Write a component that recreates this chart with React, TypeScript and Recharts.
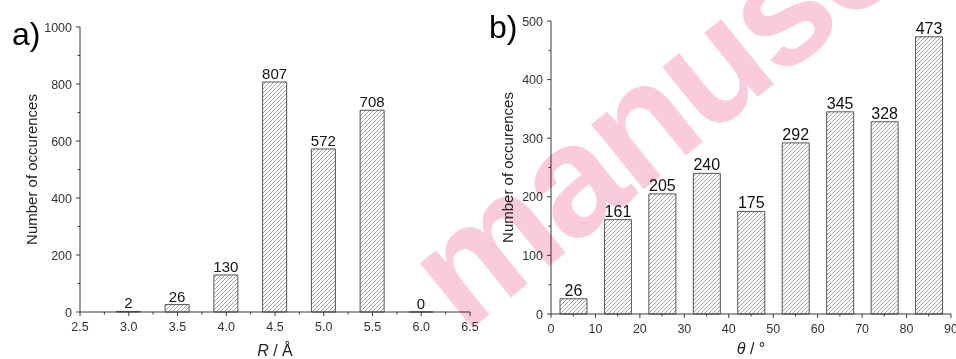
import React from 'react';
import { BarChart, Bar, XAxis, YAxis, LabelList } from 'recharts';

// panel a: distance R
const rValues = [3.0, 3.5, 4.0, 4.5, 5.0, 5.5, 6.0];
const rCounts = [2, 26, 130, 807, 572, 708, 0];
const rTicks = [2.5, 2.75, 3.0, 3.25, 3.5, 3.75, 4.0, 4.25, 4.5, 4.75, 5.0, 5.25, 5.5, 5.75, 6.0, 6.25, 6.5];
const rCountTicks = [0, 100, 200, 300, 400, 500, 600, 700, 800, 900, 1000];

// panel b: angle theta
const thetaValues = [5, 15, 25, 35, 45, 55, 65, 75, 85];
const thetaCounts = [26, 161, 205, 240, 175, 292, 345, 328, 473];
const thetaTicks = [0, 5, 10, 15, 20, 25, 30, 35, 40, 45, 50, 55, 60, 65, 70, 75, 80, 85, 90];
const thetaCountTicks = [0, 50, 100, 150, 200, 250, 300, 350, 400, 450, 500];

const rData = rValues.map((x, i) => ({ x, y: rCounts[i] }));
const thetaData = thetaValues.map((x, i) => ({ x, y: thetaCounts[i] }));

const FONT = '"Liberation Sans", Arial, sans-serif';
const AXIS = '#3a3a3a';

const makeXTick = (isMajor: (v: number) => boolean, fmt: (v: number) => string) => (props: any) => {
  const { x, y, payload } = props;
  const major = isMajor(payload.value);
  return (
    <g>
      <line x1={x} x2={x} y1={y} y2={y + (major ? 4 : 2.5)} stroke={AXIS} strokeWidth={1} />
      {major && (
        <text x={x} y={y + 19} textAnchor="middle" fontSize={12.5} fill="#333" fontFamily={FONT}>
          {fmt(payload.value)}
        </text>
      )}
    </g>
  );
};

const makeYTick = (isMajor: (v: number) => boolean) => (props: any) => {
  const { x, y, payload } = props;
  const major = isMajor(payload.value);
  return (
    <g>
      <line x1={x} x2={x - (major ? 4 : 2.5)} y1={y} y2={y} stroke={AXIS} strokeWidth={1} />
      {major && (
        <text x={x - 8} y={y} dy="0.36em" textAnchor="end" fontSize={12.5} fill="#333" fontFamily={FONT}>
          {payload.value}
        </text>
      )}
    </g>
  );
};

const yTitle = (cx: number) => (props: any) => {
  const { y, height } = props.viewBox;
  const cy = y + height / 2;
  return (
    <text x={cx} y={cy} transform={`rotate(-90 ${cx} ${cy})`} textAnchor="middle" dy="0.36em" fontSize={15} fill="#222" fontFamily={FONT}>
      Number of occurences
    </text>
  );
};

const xTitle = (sym: string, unit: string, dy: number) => (props: any) => {
  const { x, y, width } = props.viewBox;
  return (
    <text x={x + width / 2} y={y + dy} textAnchor="middle" fontSize={16} fill="#222" fontFamily={FONT}>
      <tspan fontStyle="italic">{sym}</tspan> / {unit}
    </text>
  );
};

const Hatch = ({ id }: { id: string }) => (
  <defs>
    <pattern id={id} patternUnits="userSpaceOnUse" width={4} height={4}>
      <rect width={4} height={4} fill="#fff" />
      <path d="M-1,1 L1,-1 M0,4 L4,0 M3,5 L5,3" stroke="#7a7a7a" strokeWidth={0.7} />
    </pattern>
  </defs>
);

// keep zero-count bins so their value label is still drawn
const zeroBin = (value: any) => (value === 0 ? 0.01 : 0);

export default function App() {
  return (
    <div style={{ position: 'absolute', left: 0, top: 0, width: 956, height: 359, background: '#fff', overflow: 'hidden' }}>
      <div style={{ position: 'absolute', left: 0, top: 0 }}>
        <BarChart width={478} height={359} data={rData} margin={{ top: 27, right: 8, bottom: 17, left: 20 }}>
          <Hatch id="hatchA" />
          <XAxis
            dataKey="x"
            type="number"
            domain={[2.5, 6.5]}
            ticks={rTicks}
            interval={0}
            tickSize={0}
            tickMargin={0}
            tickLine={false}
            height={30}
            stroke={AXIS}
            tick={makeXTick((v) => Math.abs(v * 2 - Math.round(v * 2)) < 1e-6, (v) => v.toFixed(1))}
            label={xTitle('R', 'Å', 44)}
          />
          <YAxis
            type="number"
            domain={[0, 1000]}
            ticks={rCountTicks}
            interval={0}
            tickSize={0}
            tickMargin={0}
            tickLine={false}
            width={60}
            stroke={AXIS}
            tick={makeYTick((v) => v % 200 === 0)}
            label={yTitle(32)}
          />
          <Bar dataKey="y" barSize={24} minPointSize={zeroBin} fill="url(#hatchA)" stroke="#555" strokeWidth={1} isAnimationActive={false}>
            <LabelList dataKey="y" position="top" offset={3} fontSize={15} fill="#111" fontFamily={FONT} />
          </Bar>
        </BarChart>
      </div>
      <div style={{ position: 'absolute', left: 478, top: 0 }}>
        <BarChart width={478} height={359} data={thetaData} margin={{ top: 21, right: 5, bottom: 15, left: 13 }}>
          <Hatch id="hatchB" />
          <XAxis
            dataKey="x"
            type="number"
            domain={[0, 90]}
            ticks={thetaTicks}
            interval={0}
            tickSize={0}
            tickMargin={0}
            tickLine={false}
            height={30}
            stroke={AXIS}
            tick={makeXTick((v) => v % 10 === 0, (v) => String(v))}
            label={xTitle('θ', '°', 40)}
          />
          <YAxis
            type="number"
            domain={[0, 500]}
            ticks={thetaCountTicks}
            interval={0}
            tickSize={0}
            tickMargin={0}
            tickLine={false}
            width={60}
            stroke={AXIS}
            tick={makeYTick((v) => v % 100 === 0)}
            label={yTitle(30)}
          />
          <Bar dataKey="y" barSize={27} fill="url(#hatchB)" stroke="#555" strokeWidth={1} isAnimationActive={false}>
            <LabelList dataKey="y" position="top" offset={3} fontSize={16} fill="#111" fontFamily={FONT} />
          </Bar>
        </BarChart>
      </div>
      <svg width={956} height={359} style={{ position: 'absolute', left: 0, top: 0, pointerEvents: 'none' }}>
        <text x={12} y={45} fontSize={32} fill="#000" fontFamily={FONT}>a)</text>
        <text x={489} y={38} fontSize={32} fill="#000" fontFamily={FONT}>b)</text>
      </svg>
      <svg width={956} height={359} style={{ position: 'absolute', left: 0, top: 0, pointerEvents: 'none', mixBlendMode: 'multiply' }}>
        <text x={464} y={335} transform="rotate(-39 464 335)" fontSize={158} letterSpacing={-4} fontWeight="bold" fill="#f9cbdb" fontFamily={FONT}>
          manuscript
        </text>
      </svg>
    </div>
  );
}
